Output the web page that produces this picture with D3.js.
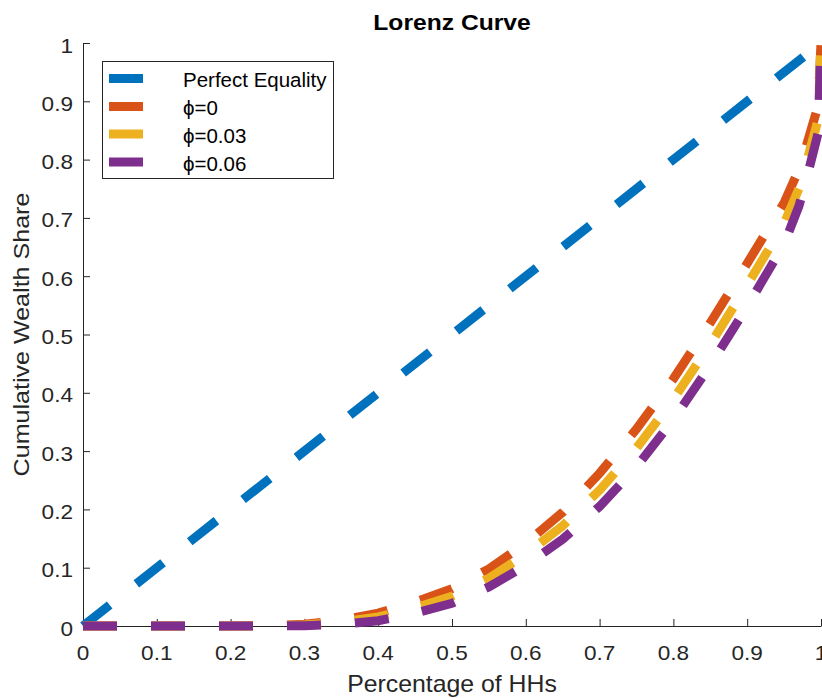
<!DOCTYPE html>
<html>
<head>
<meta charset="utf-8">
<script src="https://cdn.jsdelivr.net/npm/d3@7"></script>
<style>
  html, body { margin: 0; padding: 0; background: #fff; }
  svg { display: block; font-family: "Liberation Sans", Arial, Helvetica, sans-serif; }
</style>
</head>
<body>
<svg id="chart" width="822" height="698"></svg>
<script>
// Population share (x) and cumulative wealth share (y) for each tax rate
const share = [0, 0.05, 0.1, 0.15, 0.2, 0.25, 0.3, 0.35, 0.4, 0.45, 0.5, 0.55, 0.6,
               0.65, 0.7, 0.75, 0.8, 0.85, 0.9, 0.95, 0.97, 0.98, 0.99, 0.996, 1];
const wealthPhi0 = [0, 0, 0, 0, 0, 0.0005, 0.003, 0.010, 0.022, 0.041, 0.064, 0.098, 0.142,
                    0.195, 0.262, 0.338, 0.424, 0.520, 0.622, 0.726, 0.783, 0.823, 0.866, 0.892, 1];
const wealthPhi003 = [0, 0, 0, 0, 0, 0.0002, 0.0017, 0.0065, 0.0155, 0.031, 0.051, 0.082, 0.123,
                      0.172, 0.233, 0.305, 0.389, 0.483, 0.585, 0.690, 0.750, 0.794, 0.840, 0.868, 1];
const wealthPhi006 = [0, 0, 0, 0, 0, 0, 0.0005, 0.003, 0.009, 0.022, 0.039, 0.067, 0.104,
                      0.149, 0.205, 0.273, 0.354, 0.447, 0.548, 0.655, 0.720, 0.765, 0.815, 0.845, 1];
const equalityX = [0, 1];
const equalityY = [0, 1];

const seriesNames = ["Perfect Equality", "ϕ=0", "ϕ=0.03", "ϕ=0.06"];
const seriesColors = ["#0072BD", "#D95319", "#EDB120", "#7E2F8E"];
const xTicks = [0, 0.1, 0.2, 0.3, 0.4, 0.5, 0.6, 0.7, 0.8, 0.9, 1];
const yTicks = [0, 0.1, 0.2, 0.3, 0.4, 0.5, 0.6, 0.7, 0.8, 0.9, 1];
const tickLabels = ["0", "0.1", "0.2", "0.3", "0.4", "0.5", "0.6", "0.7", "0.8", "0.9", "1"];

const svg = d3.select("#chart");
const axisColor = "#262626";
const plotLeft = 83, plotRight = 821, plotTop = 43, plotBottom = 626;

const x = d3.scaleLinear().domain([0, 1]).range([plotLeft, plotRight]);
const y = d3.scaleLinear().domain([0, 1]).range([plotBottom, plotTop]);

// Text helper: glyphs drawn slightly wide, scaled along the baseline
function label(parent, str, px, py, opts = {}) {
  const g = parent.append("g")
    .attr("transform", `translate(${px},${py})` + (opts.rotate ? ` rotate(${opts.rotate})` : "") +
          ` scale(${opts.sx || 1},1)`);
  g.append("text")
    .attr("text-anchor", opts.anchor || "start")
    .attr("font-size", opts.size || 20)
    .attr("font-weight", opts.weight || "normal")
    .attr("fill", opts.fill || axisColor)
    .text(str);
  return g;
}

// Axes (ticks pointing inward, no box), drawn beneath the curves
const xAxis = d3.axisBottom(x).tickValues(xTicks).tickSizeInner(-7).tickSizeOuter(0).tickFormat("");
const yAxis = d3.axisLeft(y).tickValues(yTicks).tickSizeInner(-7).tickSizeOuter(0).tickFormat("");
const gx = svg.append("g").attr("transform", `translate(0,${plotBottom})`).call(xAxis);
const gy = svg.append("g").attr("transform", `translate(${plotLeft},0)`).call(yAxis);
[gx, gy].forEach(g => {
  g.selectAll("path, line").attr("stroke", axisColor).attr("stroke-width", 1);
});

// Series
const series = [
  { xs: equalityX, ys: equalityY },
  { xs: share, ys: wealthPhi0 },
  { xs: share, ys: wealthPhi003 },
  { xs: share, ys: wealthPhi006 }
];
const line = d3.line().x(d => x(d[0])).y(d => y(d[1]));
const plot = svg.append("g");
series.forEach((s, i) => {
  plot.append("path")
    .datum(d3.zip(s.xs, s.ys))
    .attr("d", line)
    .attr("fill", "none")
    .attr("stroke", seriesColors[i])
    .attr("stroke-width", 9)
    .attr("stroke-dasharray", "34,34")
    .attr("stroke-linecap", "butt")
    .attr("stroke-linejoin", "miter");
});

// Tick labels
xTicks.forEach((t, i) => label(svg, tickLabels[i], x(t), plotBottom + 33.5, { anchor: "middle", sx: 1.13 }));
yTicks.forEach((t, i) => label(svg, tickLabels[i], plotLeft - 10, y(t) + 9.5, { anchor: "end", sx: 1.13 }));

// Title and axis labels
label(svg, "Lorenz Curve", (plotLeft + plotRight) / 2, 29.5, { anchor: "middle", size: 22, weight: "bold", fill: "#000", sx: 1.12 });
label(svg, "Percentage of HHs", (plotLeft + plotRight) / 2, 692, { anchor: "middle", size: 23, sx: 1.08 });
label(svg, "Cumulative Wealth Share", 28.5, (plotTop + plotBottom) / 2, { anchor: "middle", size: 22, rotate: -90, sx: 1.14 });

// Legend
const legend = svg.append("g");
legend.append("rect")
  .attr("x", 102.5).attr("y", 61.5).attr("width", 231).attr("height", 117)
  .attr("fill", "#fff").attr("stroke", axisColor).attr("stroke-width", 1);
const rowY = [78.5, 106.5, 134, 162];
seriesNames.forEach((name, i) => {
  legend.append("line")
    .attr("x1", 109).attr("x2", 143)
    .attr("y1", rowY[i]).attr("y2", rowY[i])
    .attr("stroke", seriesColors[i]).attr("stroke-width", 9);
  label(legend, name, 183, rowY[i] + 8.5, { size: 20.5, fill: "#000" });
});
</script>
</body>
</html>
